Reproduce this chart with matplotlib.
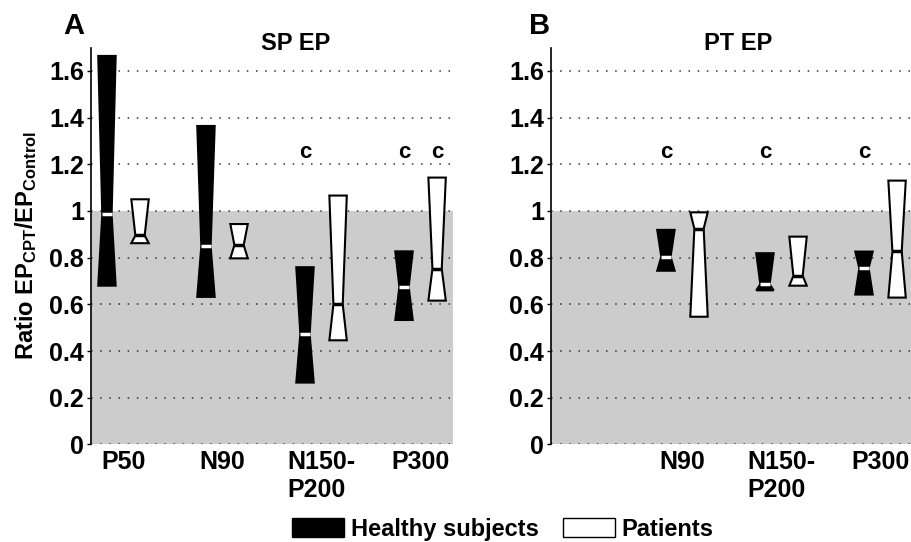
import numpy as np
import matplotlib.pyplot as plt
from matplotlib.patches import Polygon, Rectangle

plt.rcParams['font.family'] = ['Liberation Sans', 'DejaVu Sans']
plt.rcParams['font.weight'] = 'bold'
plt.rcParams['mathtext.fontset'] = 'custom'
plt.rcParams['mathtext.rm'] = 'Liberation Sans:bold'
plt.rcParams['mathtext.it'] = 'Liberation Sans:bold'
plt.rcParams['mathtext.bf'] = 'Liberation Sans:bold'

# EP components
components = ['P50', 'N90', 'N150-\nP200', 'P300']

# SP EP ratios (lower quartile, median, upper quartile)
sp_healthy_q1 = [0.68, 0.632, 0.265, 0.533]
sp_healthy_med = [0.985, 0.849, 0.473, 0.675]
sp_healthy_q3 = [1.664, 1.364, 0.759, 0.827]
sp_patient_q1 = [0.862, 0.797, 0.446, 0.616]
sp_patient_med = [0.895, 0.854, 0.600, 0.752]
sp_patient_q3 = [1.050, 0.944, 1.066, 1.143]

# PT EP ratios (no P50)
pt_healthy_q1 = [None, 0.744, 0.660, 0.642]
pt_healthy_med = [None, 0.804, 0.686, 0.755]
pt_healthy_q3 = [None, 0.919, 0.819, 0.826]
pt_patient_q1 = [None, 0.547, 0.680, 0.629]
pt_patient_med = [None, 0.924, 0.722, 0.827]
pt_patient_q3 = [None, 0.994, 0.890, 1.130]

# significance marks: (component index, group) 0 = healthy, 1 = patients
sp_marks = [(2, 0), (3, 0), (3, 1)]
pt_marks = [(1, 0), (2, 0), (3, 0)]
mark_y = 1.25

offset = 0.167
half_w = 0.088
half_n = 0.047


def notch_box(ax, x, q1, med, q3, face, edge, medcolor):
    pts = [(x - half_w, q3), (x + half_w, q3), (x + half_n, med),
           (x + half_w, q1), (x - half_w, q1), (x - half_n, med)]
    ax.add_patch(Polygon(pts, closed=True, facecolor=face, edgecolor=edge,
                         linewidth=1.5, joinstyle='miter', zorder=3))
    ax.plot([x - half_n, x + half_n], [med, med], color=medcolor,
            linewidth=2.5, solid_capstyle='butt', zorder=4)


def draw_panel(ax, hq1, hmed, hq3, pq1, pmed, pq3, marks):
    ax.axhspan(0, 1, color='#cccccc', zorder=0, linewidth=0)
    for yv in np.arange(0, 1.61, 0.2):
        ax.axhline(yv, color='#333333', linestyle=(0, (1, 5)),
                   linewidth=1.1, zorder=1)
    for i in range(len(components)):
        if hq1[i] is None:
            continue
        xc = i + 1
        notch_box(ax, xc - offset, hq1[i], hmed[i], hq3[i],
                  'black', 'black', 'white')
        notch_box(ax, xc + offset, pq1[i], pmed[i], pq3[i],
                  'white', 'black', 'black')
    for i, g in marks:
        xc = i + 1 + (offset if g else -offset)
        ax.text(xc, mark_y, 'c', ha='center', va='center', fontsize=16,
                fontweight='bold')
    ax.set_xlim(0.672, 4.328)
    ax.set_ylim(0, 1.7)
    ax.set_xticks(range(1, 5))
    labels = components if hq1[0] is not None else [''] + components[1:]
    ax.set_xticklabels(labels, fontsize=18, fontweight='bold',
                       multialignment='left')
    ax.tick_params(axis='x', length=0, pad=4)
    ax.set_yticks(np.arange(0, 1.61, 0.2))
    ax.set_yticklabels(['0', '0.2', '0.4', '0.6', '0.8', '1', '1.2',
                        '1.4', '1.6'], fontsize=18, fontweight='bold')
    ax.tick_params(axis='y', length=3, width=1, pad=2)
    for s in ['top', 'right', 'bottom']:
        ax.spines[s].set_visible(False)
    ax.spines['left'].set_linewidth(1.2)


fig = plt.figure(figsize=(9.11, 5.42), dpi=100)
axA = fig.add_axes([0.0999, 0.18, 0.3974, 0.7323])
axB = fig.add_axes([0.6048, 0.18, 0.3974, 0.7323])

draw_panel(axA, sp_healthy_q1, sp_healthy_med, sp_healthy_q3,
           sp_patient_q1, sp_patient_med, sp_patient_q3, sp_marks)
draw_panel(axB, pt_healthy_q1, pt_healthy_med, pt_healthy_q3,
           pt_patient_q1, pt_patient_med, pt_patient_q3, pt_marks)

axA.set_ylabel(r'Ratio EP$_{\mathregular{CPT}}$/EP$_{\mathregular{Control}}$',
               fontsize=17, fontweight='bold', labelpad=7)

fig.text(0.070, 0.978, 'A', fontsize=21, fontweight='bold', va='top')
fig.text(0.581, 0.978, 'B', fontsize=21, fontweight='bold', va='top')
fig.text(0.324, 0.92, 'SP EP', fontsize=17, fontweight='bold',
         ha='center', va='center')
fig.text(0.81, 0.92, 'PT EP', fontsize=17, fontweight='bold',
         ha='center', va='center')

handles = [Rectangle((0, 0), 1, 1, facecolor='black', edgecolor='black'),
           Rectangle((0, 0), 1, 1, facecolor='white', edgecolor='black')]
fig.legend(handles, ['Healthy subjects', 'Patients'], loc='center',
           bbox_to_anchor=(0.552, 0.023), ncol=2, frameon=False,
           prop={'size': 17, 'weight': 'bold'}, handlelength=2.2,
           handleheight=0.85, handletextpad=0.3, columnspacing=1.0)

fig.savefig('out.png', dpi=100)
